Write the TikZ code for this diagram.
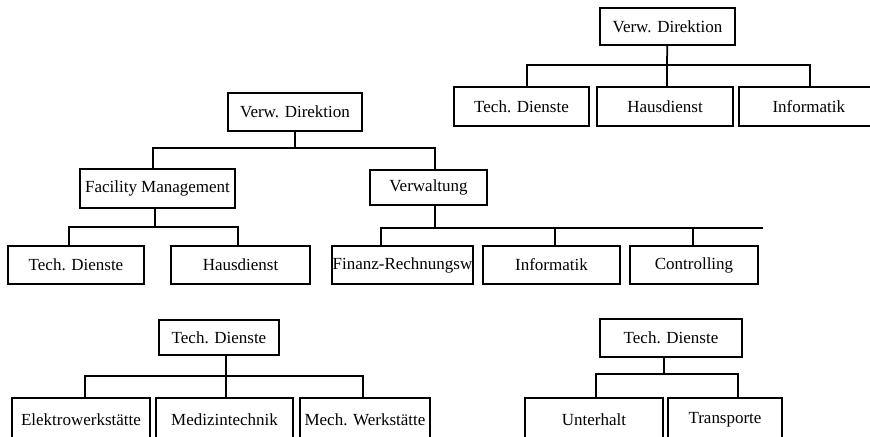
\documentclass[tikz,border=0pt]{standalone}
\usepackage{fontspec}
\setmainfont{Liberation Serif}
\usepackage{tikz}
\usetikzlibrary{calc}
\tikzstyle{box} = [rectangle, draw=black, line width=1.5pt, inner sep=0pt, font=\fontsize{14.5}{16}\selectfont]
\tikzstyle{conn} = [-, draw=black, line width=1.5pt]

\begin{document}
\begin{tikzpicture}[x=0.03cm, y=-0.03cm]
\useasboundingbox (0,0) rectangle (870,436);
\clip (0,0) rectangle (870,436);
% top right
\node [box, minimum width=4.05cm, minimum height=1.11cm] (VD1) at (667.5, 26.5) {Verw. Direktion};
\node [box, minimum width=4.05cm, minimum height=1.17cm] (TD1) at (521.5, 106.5) {Tech. Dienste};
\node [box, minimum width=4.08cm, minimum height=1.17cm] (HD1) at (665, 106.5) {Hausdienst};
\node [box, minimum width=4.23cm, minimum height=1.17cm, text width=3.9cm, align=left] (IN1) at (809.5, 106.5) {\hspace{0.84cm}Informatik};
\coordinate (b1l) at (527, 65);
\coordinate (b1m) at (667, 65);
\coordinate (b1r) at (810, 65);
\draw [conn] (VD1) -- (b1m);
\draw [conn] (b1l |- TD1.north) -- (b1l) -- (b1r) -- (b1r |- IN1.north);
\draw [conn] (b1m) -- (b1m |- HD1.north);
% middle
\node [box, minimum width=4.02cm, minimum height=1.14cm] (VD2) at (295, 112) {Verw. Direktion};
\node [box, minimum width=4.65cm, minimum height=1.17cm] (FM) at (157.5, 188.5) {Facility Management};
\node [box, minimum width=3.51cm, minimum height=1.05cm] (VW) at (428.5, 187.5) {Verwaltung};
\coordinate (b2l) at (153, 148);
\coordinate (b2m) at (295, 148);
\coordinate (b2r) at (435, 148);
\draw [conn] (VD2) -- (b2m);
\draw [conn] (b2l |- FM.north) -- (b2l) -- (b2r) -- (b2r |- VW.north);
\node [box, minimum width=4.08cm, minimum height=1.14cm] (TD2) at (76, 265) {Tech. Dienste};
\node [box, minimum width=4.17cm, minimum height=1.14cm] (HD2) at (240.5, 265) {Hausdienst};
\coordinate (b3m) at (155, 227);
\coordinate (b3l) at (69, 227);
\coordinate (b3r) at (238, 227);
\draw [conn] (b3m |- FM.south) -- (b3m);
\draw [conn] (b3l |- TD2.north) -- (b3l) -- (b3r) -- (b3r |- HD2.north);
\node [box, minimum width=4.23cm, minimum height=1.14cm] (FR) at (402.5, 265) {Finanz-Rechnungsw};
\node [box, minimum width=4.11cm, minimum height=1.14cm] (IN2) at (551.5, 265) {Informatik};
\node [box, minimum width=3.84cm, minimum height=1.14cm] (CO) at (694, 265) {Controlling};
\coordinate (b4m) at (435, 228);
\coordinate (b4l) at (381, 228);
\coordinate (b4c) at (555, 228);
\coordinate (b4d) at (693, 228);
\coordinate (b4r) at (763, 228);
\draw [conn] (b4m |- VW.south) -- (b4m);
\draw [conn] (b4l |- FR.north) -- (b4l) -- (b4r);
\draw [conn] (b4c) -- (b4c |- IN2.north);
\draw [conn] (b4d) -- (b4d |- CO.north);
% bottom left
\node [box, minimum width=3.6cm, minimum height=1.05cm] (TD3) at (219, 337.5) {Tech. Dienste};
\node [box, minimum width=4.14cm, minimum height=1.29cm, anchor=north] (EW) at (81, 397) {Elektrowerkstätte};
\node [box, minimum width=4.11cm, minimum height=1.29cm, anchor=north] (MT) at (224.5, 397) {Medizintechnik};
\node [box, minimum width=3.9cm, minimum height=1.29cm, anchor=north] (MW) at (365, 397) {Mech. Werkstätte};
\coordinate (b5l) at (85, 376);
\coordinate (b5m) at (226, 376);
\coordinate (b5r) at (363, 376);
\draw [conn] (b5m |- TD3.south) -- (b5m) -- (b5m |- MT.north);
\draw [conn] (b5l |- EW.north) -- (b5l) -- (b5r) -- (b5r |- MW.north);
% bottom right
\node [box, minimum width=4.26cm, minimum height=1.14cm] (TD4) at (671, 338) {Tech. Dienste};
\node [box, minimum width=4.14cm, minimum height=1.29cm, anchor=north] (UH) at (594, 397) {Unterhalt};
\node [box, minimum width=3.42cm, minimum height=1.29cm, anchor=north] (TR) at (725, 397) {Transporte};
\coordinate (b6l) at (596, 374);
\coordinate (b6m) at (664, 374);
\coordinate (b6r) at (738, 374);
\draw [conn] (b6m |- TD4.south) -- (b6m);
\draw [conn] (b6l |- UH.north) -- (b6l) -- (b6r) -- (b6r |- TR.north);
\end{tikzpicture}
\end{document}
